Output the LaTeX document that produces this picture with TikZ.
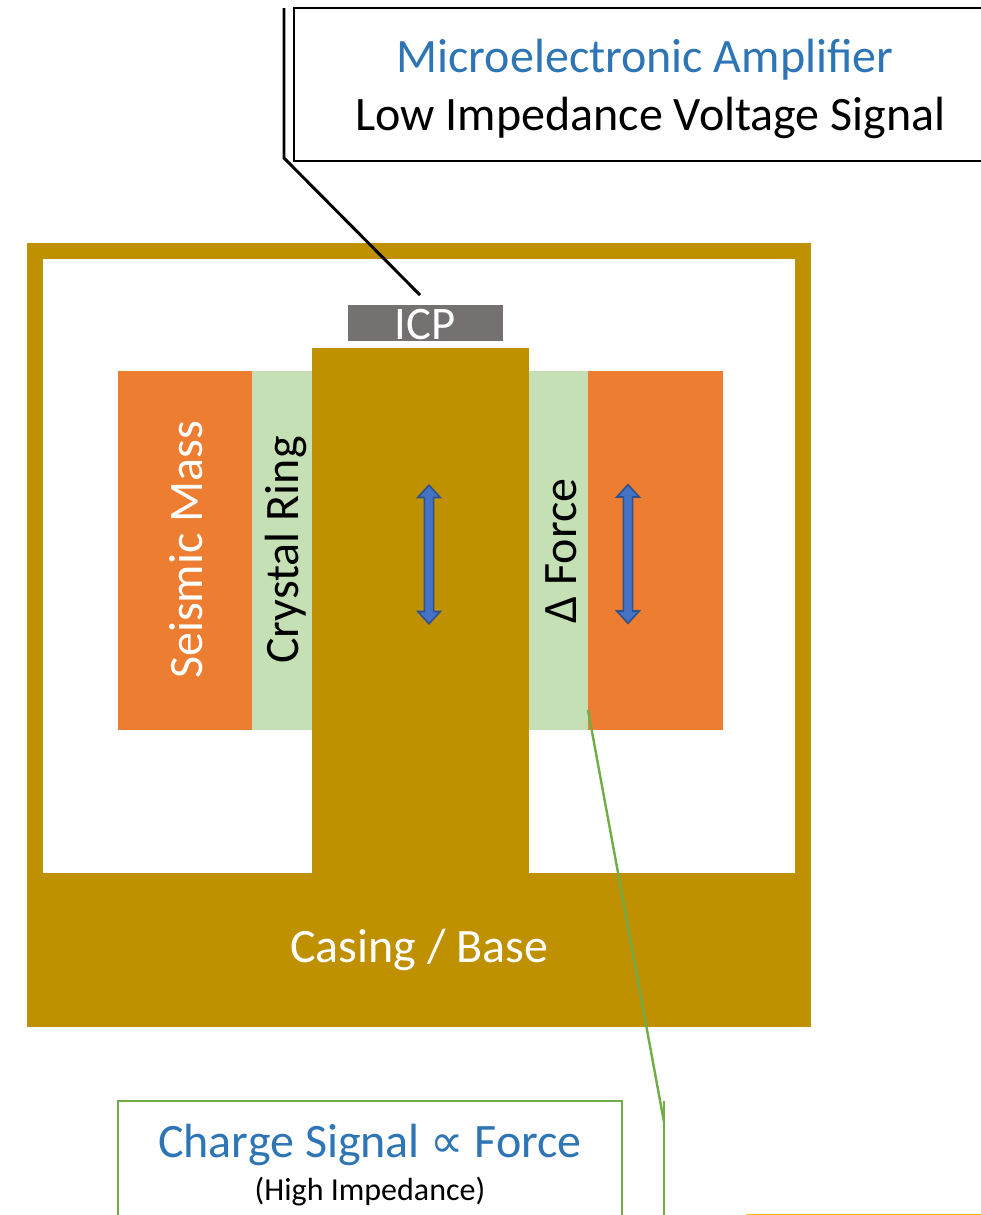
\documentclass[tikz,border=0pt]{standalone}
\usepackage{fontspec}
\setmainfont{Carlito}
\newfontfamily\symfont{DejaVu Sans}
\usetikzlibrary{fit,shapes.arrows}
\definecolor{casing}{HTML}{BF9000}
\definecolor{massc}{HTML}{ED7D31}
\definecolor{crystal}{HTML}{C5E0B4}
\definecolor{icpc}{HTML}{767171}
\definecolor{titleblue}{HTML}{2E75B6}
\definecolor{greenl}{HTML}{70AD47}
\definecolor{arrowf}{HTML}{4472C4}
\definecolor{arrowd}{HTML}{2F528F}
\definecolor{yell}{HTML}{FFC000}
\tikzset{
  x=0.75pt,y=-0.75pt,
  blockbox/.style={fit={#1},inner sep=0pt,outer sep=0pt,draw=none},
  txt/.style={inner sep=0pt,outer sep=0pt,align=center,font=\fontsize{#1}{#1}\selectfont},
  updown/.style={double arrow,draw=arrowd,fill=arrowf,line width=1.2pt,rotate=90,
    minimum height=104pt,minimum width=0pt,inner xsep=0pt,inner ysep=2.9pt,outer sep=0pt,
    text height=0pt,text depth=0pt,text width=0pt,
    double arrow head extend=5pt,double arrow tip angle=85,
    shape border uses incircle=false}
}
\begin{document}
\begin{tikzpicture}
\useasboundingbox (0,0) rectangle (981,1215);
\clip (0,0) rectangle (981,1215);
\fill[white] (0,0) rectangle (981,1215);
% casing
\node[blockbox={(27,243)(811,1027)},fill=casing] (outer) {};
\node[blockbox={(43,259)(795,873)},fill=white] (inner) {};
\node[blockbox={(312,348)(529,873)},fill=casing] (post) {};
\node[blockbox={(118,371)(252,730)},fill=massc] (massL) {};
\node[blockbox={(252,371)(312,730)},fill=crystal] (crysL) {};
\node[blockbox={(529,371)(588,730)},fill=crystal] (crysR) {};
\node[blockbox={(588,371)(723,730)},fill=massc] (massR) {};
\node[blockbox={(348,305)(503,341)},fill=icpc] (icp) {};
% labels
\node[txt=35,text=white] (icpT) at (425,325) {ICP};
\node[txt=36,text=white,rotate=90] (massT) at (186,550) {Seismic Mass};
\node[txt=36,text=black,rotate=90] (crysT) at (286,550) {Crystal Ring};
\node[txt=36,text=black,rotate=90] (forceT) at (561,551) {Δ Force};
\node[txt=36,text=white] (caseT) at (419.5,950) {Casing / Base};
% arrows
\node[updown] (arrL) at (429,554.5) {};
\node[updown] (arrR) at (628,554) {};
% top callout
\node[blockbox={(294,8)(1000,161)},draw=black,line width=2.2pt] (topbox) {};
\node[txt=36,text=titleblue] (topA) at (645,60) {Microelectronic Amplifier};
\node[txt=36,text=black] (topB) at (650.5,118) {Low Impedance Voltage Signal};
\coordinate (c1a) at (284,8);
\coordinate (c1b) at (284,158);
\coordinate (c1c) at (420,295);
\draw[black,line width=2.2pt] (c1a) -- (c1b) -- (c1c);
% bottom callout
\node[blockbox={(118,1101)(622,1240)},draw=greenl,line width=2.2pt] (botbox) {};
\node[txt=36,text=titleblue] (botA) at (370,1145) {Charge Signal {\symfont\fontsize{35}{35}\selectfont ∝} Force};
\node[txt=24,text=black] (botB) at (370,1192) {(High Impedance)};
\coordinate (c2a) at (664,1101);
\coordinate (c2b) at (664,1240);
\coordinate (c2c) at (664,1122);
\coordinate (c2d) at (588,710);
\draw[greenl,line width=1.8pt] (c2a) -- (c2b);
\draw[greenl,line width=1.8pt] (c2c) -- (c2d);
% yellow edge
\coordinate (ya) at (746,1214.5);
\coordinate (yb) at (990,1214.5);
\draw[yell,line width=1.5pt] (ya) -- (yb);
\end{tikzpicture}
\end{document}
